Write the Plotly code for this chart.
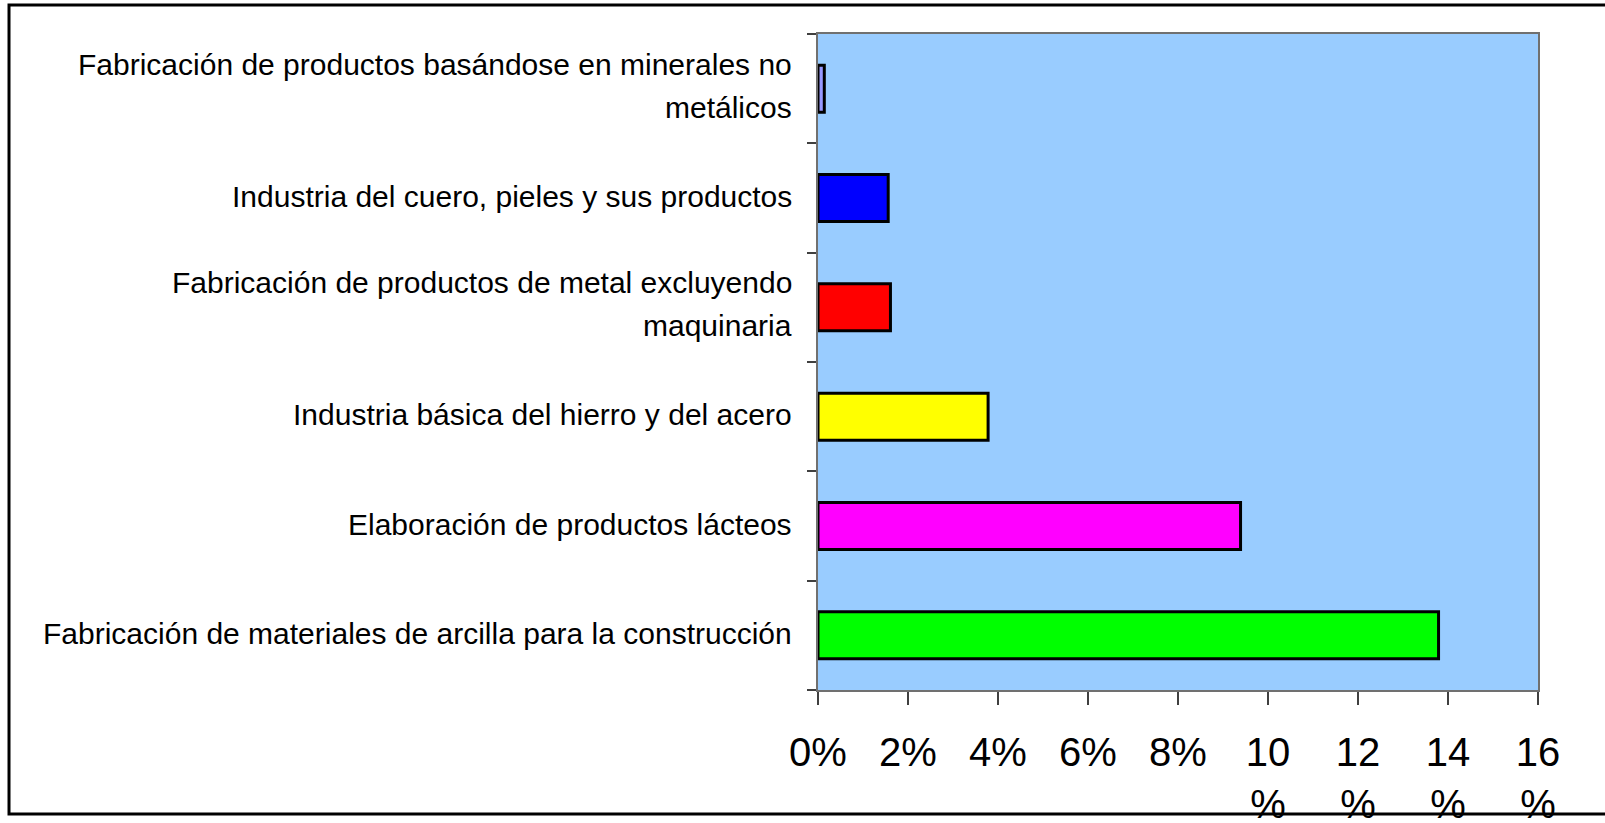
import plotly.graph_objects as go

# Data (bottom to top)
categories = [
    "Fabricación de materiales de arcilla para la construcción",
    "Elaboración de productos lácteos",
    "Industria básica del hierro y del acero",
    "Fabricación de productos de metal excluyendo<br>maquinaria",
    "Industria del cuero, pieles y sus productos",
    "Fabricación de productos basándose en minerales no<br>metálicos",
]
values = [13.79, 9.39, 3.78, 1.61, 1.56, 0.14]
bar_colors = ["#00FF00", "#FF00FF", "#FFFF00", "#FF0000", "#0000FF", "#9999FF"]
tick_vals = [0, 2, 4, 6, 8, 10, 12, 14, 16]
tick_text = ["0%", "2%", "4%", "6%", "8%", "10<br>%", "12<br>%", "14<br>%", "16<br>%"]

FONT = "Liberation Sans, Arial, sans-serif"

fig = go.Figure()
fig.add_trace(go.Bar(
    y=categories, x=values, orientation="h",
    marker=dict(color=bar_colors, line=dict(color="black", width=3)),
    width=0.43, showlegend=False, hoverinfo="x+y",
))

# category labels as annotations (one per line, to mimic wide line spacing)
annotations = []
for cat in categories:
    lines = cat.split("<br>")
    n = len(lines)
    for i, ln in enumerate(lines):
        shift = ((n - 1) / 2 - i) * 43 + (3 if n > 1 else 2)
        annotations.append(dict(
            x=-0.033, xref="paper", y=cat, yref="y", text=ln,
            showarrow=False, xanchor="right", yanchor="middle",
            yshift=shift, font=dict(family=FONT, size=30, color="black"),
        ))

fig.update_layout(
    width=1605, height=823,
    margin=dict(l=818, r=67, t=34, b=133, autoexpand=False),
    plot_bgcolor="#99CCFF", paper_bgcolor="white",
    font=dict(family=FONT, color="black"),
    annotations=annotations,
    shapes=[dict(type="rect", xref="paper", yref="paper",
                 x0=-1.1236, x1=1.103, y0=-0.189, y1=1.0442,
                 line=dict(color="black", width=3), layer="above")],
)
fig.update_xaxes(
    range=[0, 16], tickvals=tick_vals, ticktext=tick_text,
    showgrid=False, zeroline=False, automargin=False,
    showline=True, linecolor="#707070", linewidth=2, mirror=True,
    ticks="outside", ticklen=13, tickcolor="#404040", tickwidth=1.5,
    tickfont=dict(family=FONT, size=40, color="black"),
    ticklabelstandoff=13,
)
fig.update_yaxes(
    categoryorder="array", categoryarray=categories,
    showticklabels=False, showgrid=False, zeroline=False, automargin=False,
    showline=True, linecolor="#707070", linewidth=2, mirror=True,
    ticks="outside", ticklen=9, tickcolor="#404040", tickwidth=1.5,
    tickson="boundaries",
)

fig.write_html("out.html", config={"displayModeBar": False},
               post_script="document.body.style.margin='0px';")
